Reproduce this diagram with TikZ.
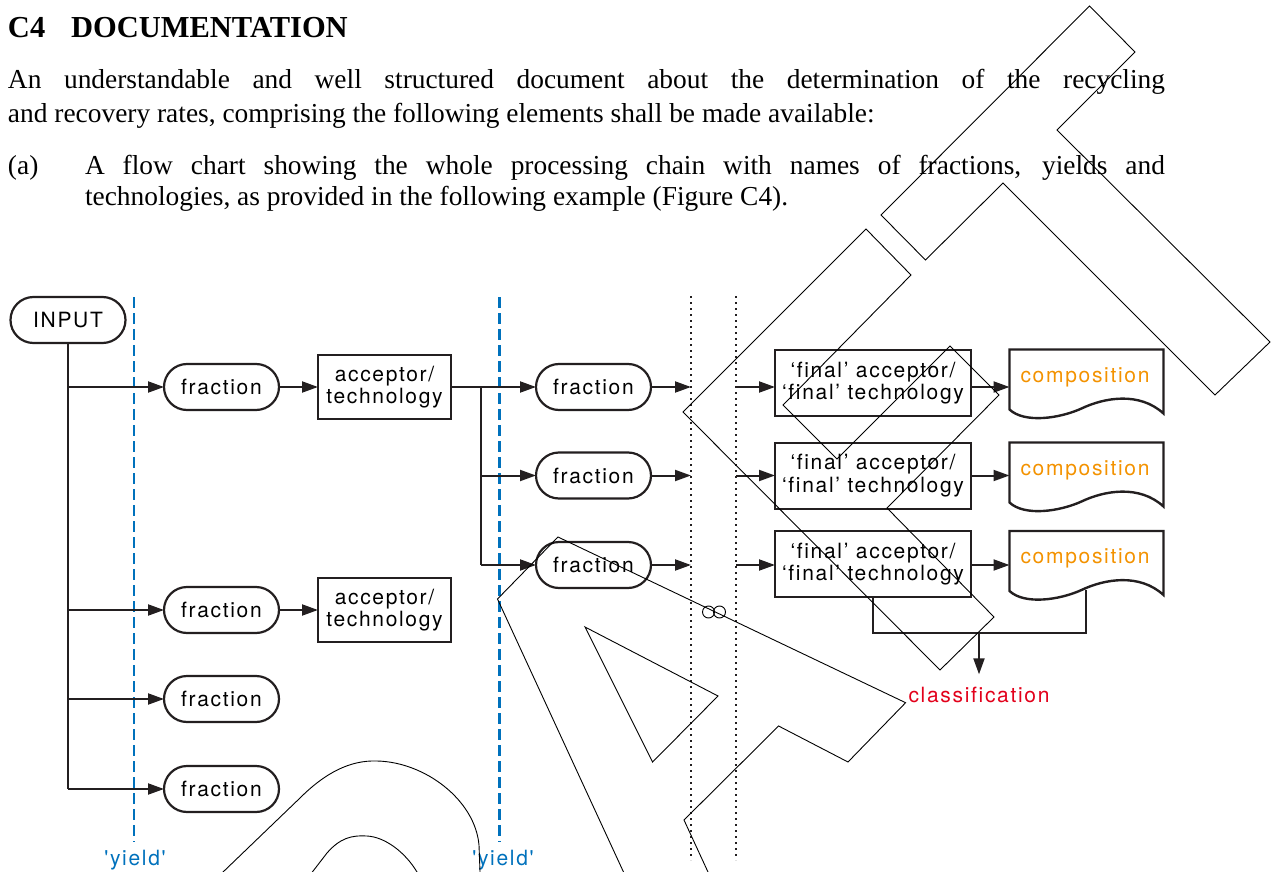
\documentclass[tikz,border=0pt]{standalone}
\usepackage{fontspec}
\setmainfont{Liberation Serif}
\newfontfamily\dfont[LetterSpace=8,Ligatures=NoCommon]{TeX Gyre Heros}
\usetikzlibrary{arrows.meta}
\definecolor{ublue}{RGB}{0,113,188}
\definecolor{uorange}{RGB}{243,146,0}
\definecolor{ured}{RGB}{226,0,26}
\definecolor{ink}{RGB}{35,31,32}
\begin{document}
\begin{tikzpicture}[x=1pt,y=-1pt,
  every node/.style={inner sep=0pt,outer sep=0pt},
  dtext/.style={font=\dfont\fontsize{21}{22.5}\selectfont},
  pill/.style={dtext,draw=ink,line width=2.2pt,rounded corners=23pt,minimum width=115pt,minimum height=46pt},
  box/.style={dtext,draw=ink,line width=2.3pt,align=center,minimum height=64pt},
  arr/.style={draw=ink,line width=2pt,-{Triangle[length=16pt,width=11pt]}},
  ln/.style={draw=ink,line width=2pt},
  doc/.style={minimum width=154pt,minimum height=64pt,anchor=north west},
  body/.style={anchor=base west,font=\fontsize{27.4}{33}\selectfont},
  ydash/.style={ublue,line width=2.4pt,dash pattern=on 11pt off 5pt},
  dots/.style={ink,line width=2.3pt,dash pattern=on 2.3pt off 3.7pt},
  wm/.style={black,line width=0.9pt},
  docpic/.pic={\draw[ink,line width=2.4pt,line join=miter] (0,60) -- (0,0) -- (154,0) -- (154,64)
     .. controls (130,42) and (95,48) .. (72,59) .. controls (50,69) and (15,74) .. (0,60) -- cycle;}
]
\useasboundingbox (0,0) rectangle (1275,872);
% ---------- text ----------
\node[anchor=base west,font=\bfseries\fontsize{30.5}{31}\selectfont] (t1) at (8,38) {C4};
\node[anchor=base west,font=\bfseries\fontsize{30.5}{31}\selectfont] (t2) at (71,38) {DOCUMENTATION};
\node[body] (p1) at (8,89) {\makebox[1157pt][s]{An understandable and well structured document about the determination of the recycling}};
\node[body] (p2) at (8,122.5) {and recovery rates, comprising the following elements shall be made available:};
\node[body] (p3a) at (8,174.5) {(a)};
\node[body] (p3) at (85,174.5) {\makebox[1080pt][s]{A flow chart showing the whole processing chain with names of fractions, yields and}};
\node[body] (p4) at (85,205) {technologies, as provided in the following example (Figure C4).};
% ---------- guide lines ----------
\draw[ydash] (134,297) -- (134,842);
\draw[ydash] (499.3,297) -- (499.3,842);
\node[dtext,text=ublue,anchor=base] (y1) at (135,865) {'yield'};
\node[dtext,text=ublue,anchor=base] (y2) at (503,865) {'yield'};
\coordinate (dl1) at (691,296);
\coordinate (dl2) at (736,296);
\draw[dots] (dl1) -- (691,860);
\draw[dots] (dl2) -- (736,860);
% ---------- nodes ----------
\node[pill] (in) at (68,320) {INPUT};
\node[pill] (f1) at (221.5,387) {fraction};
\node[pill] (f2) at (221.5,610) {fraction};
\node[pill] (f3) at (221.5,699) {fraction};
\node[pill] (f4) at (221.5,789) {fraction};
\node[box,minimum width=133pt] (a1) at (384.5,387) {acceptor/\\technology};
\node[box,minimum width=133pt] (a2) at (384.5,610) {acceptor/\\technology};
\node[pill] (g1) at (593.5,387) {fraction};
\node[pill] (g2) at (593.5,475.5) {fraction};
\node[pill] (g3) at (593.5,565) {fraction};
\node[box,minimum width=196pt,minimum height=66pt] (b1) at (873,383.3) {‘final’ acceptor/\\‘final’ technology};
\node[box,minimum width=196pt,minimum height=66pt] (b2) at (873,475.8) {‘final’ acceptor/\\‘final’ technology};
\node[box,minimum width=196pt,minimum height=66pt] (b3) at (873,564) {‘final’ acceptor/\\‘final’ technology};
\node[doc] (d1) at (1009.5,349.5) {};
\node[doc] (d2) at (1009.5,442.5) {};
\node[doc] (d3) at (1009.5,531) {};
\pic at (d1.north west) {docpic};
\pic at (d2.north west) {docpic};
\pic at (d3.north west) {docpic};
\node[dtext,text=uorange,anchor=base] (c1) at (1085,382) {composition};
\node[dtext,text=uorange,anchor=base] (c2) at (1085,475) {composition};
\node[dtext,text=uorange,anchor=base] (c3) at (1085,563.6) {composition};
\node[dtext,text=ured,anchor=base] (cl) at (979,702.7) {classification};
% ---------- connectors ----------
\draw[ln] (in.south) -- (in.south |- f4);
\foreach \n in {f1,f2,f3,f4} \draw[arr] (in.south |- \n) -- (\n.west);
\draw[arr] (f1.east) -- (a1.west);
\draw[arr] (f2.east) -- (a2.west);
\draw[arr] (a1.east) -- (g1.west);
\coordinate (br) at (481,387);
\draw[ln] (br) -- (br |- g3);
\draw[arr] (br |- g2) -- (g2.west);
\draw[arr] (br |- g3) -- (g3.west);
\foreach \g/\b/\d in {g1/b1/d1,g2/b2/d2,g3/b3/d3}{
  \draw[arr] (\g.east) -- (dl1 |- \g);
  \draw[arr] (dl2 |- \g) -- (\b.west |- \g);
  \draw[arr] (\b.east |- \g) -- (\d.west |- \g);
}
\coordinate (k) at (873,632.7);
\coordinate (kd) at (1086,590);
\draw[ln] (b3.south) |- (kd |- k) -- (kd);
\draw[arr,shorten >=13pt] (cl.north |- k) -- (cl.north);
% ---------- watermark ----------
\begin{scope}
\clip (0,0) rectangle (1275,872);
\draw[wm] (1089.5,6) -- (1135,52) -- (1057,130) -- (1270,342) -- (1215,395) -- (1003,183) -- (925.5,260) -- (881,215) -- cycle;
\draw[wm] (683,412) -- (866,229) -- (911,275) -- (783,405) -- (837,459) -- (950,346) -- (999,395) -- (887,508) -- (994,617) -- (940,670) -- cycle;
\draw[wm] (635.5,898) -- (497.5,599) -- (558,537) -- (905.6,702.7) -- (848,762) -- (778.6,726) -- (684,820) -- (720,898);
\draw[wm] (585,627) -- (718,696) -- (652.6,762) -- cycle;
\draw[wm] (196,898) -- (300,798) .. controls (325,773) and (350,760) .. (377,761) .. controls (425,762) and (475,800) .. (479,845) -- (481,898);
\draw[wm] (300,888) -- (327,853) .. controls (340,838) and (352,835) .. (367,836) .. controls (385,837) and (405,852) .. (417,872) -- (427,888);
\draw[wm] (708.5,612) circle[radius=6pt];
\draw[wm] (719.5,612) circle[radius=6pt];
\end{scope}
\end{tikzpicture}
\end{document}
